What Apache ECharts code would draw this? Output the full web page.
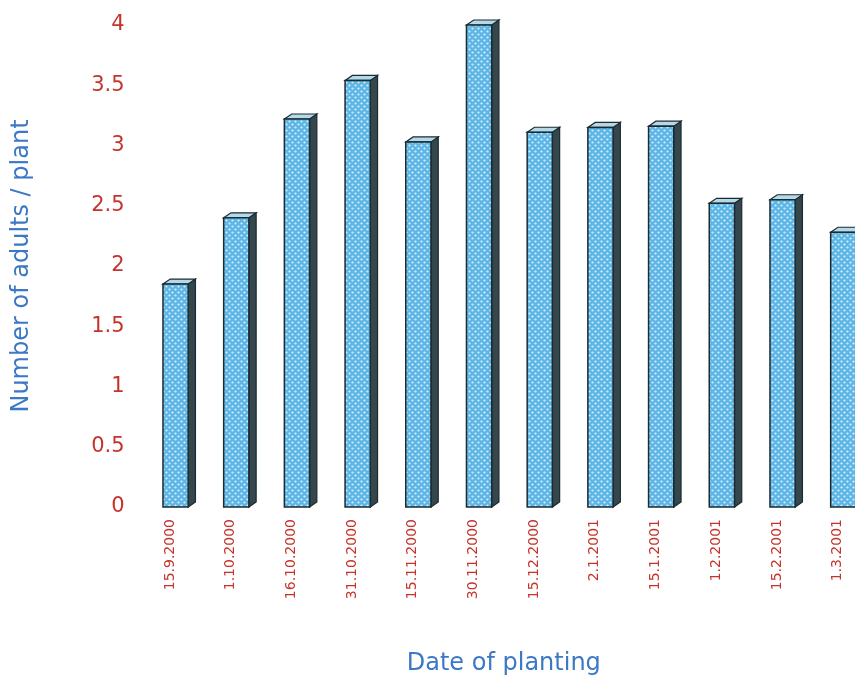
<!DOCTYPE html>
<html>
<head>
<meta charset="utf-8">
<script src="https://cdn.jsdelivr.net/npm/echarts@6/dist/echarts.min.js"></script>
<style>
  html, body { margin: 0; padding: 0; background: #fff; }
  #main { width: 855px; height: 692px; }
</style>
</head>
<body>
<div id="main"></div>
<script>
var categories = ['15.9.2000', '1.10.2000', '16.10.2000', '31.10.2000', '15.11.2000', '30.11.2000',
  '15.12.2000', '2.1.2001', '15.1.2001', '1.2.2001', '15.2.2001', '1.3.2001'];
var adults = [1.85, 2.40, 3.22, 3.54, 3.03, 4.00, 3.11, 3.15, 3.16, 2.52, 2.55, 2.28];
var yTicks = [0, 0.5, 1, 1.5, 2, 2.5, 3, 3.5, 4];

// dotted fill for the front of the bars
var dots = document.createElement('canvas');
dots.width = 6;
dots.height = 6;
var ctx = dots.getContext('2d');
ctx.fillStyle = '#5db6e6';
ctx.fillRect(0, 0, 6, 6);
ctx.fillStyle = '#d6effa';
[[1.5, 1.5], [4.5, 4.5]].forEach(function (p) {
  ctx.beginPath();
  ctx.arc(p[0], p[1], 1.1, 0, Math.PI * 2);
  ctx.fill();
});

var myChart = echarts.init(document.getElementById('main'));

option = {
  backgroundColor: '#fff',
  textStyle: { fontFamily: 'DejaVu Sans' },
  grid: { left: 139.6, width: 728.4, top: 25, bottom: 185, outerBoundsMode: 'none', containLabel: false },
  xAxis: {
    type: 'category',
    data: categories,
    name: 'Date of planting',
    nameLocation: 'middle',
    nameGap: 145,
    nameTextStyle: { color: '#3b78c6', fontSize: 24 },
    axisLine: { show: false },
    axisTick: { show: false },
    axisLabel: { interval: 0, rotate: 90, margin: 12, color: '#c4342c', fontSize: 14 }
  },
  yAxis: {
    type: 'value',
    min: yTicks[0],
    max: yTicks[yTicks.length - 1],
    interval: 0.5,
    name: 'Number of adults / plant',
    nameLocation: 'middle',
    nameGap: 106,
    nameTextStyle: { color: '#3b78c6', fontSize: 24 },
    axisLine: { show: false },
    axisTick: { show: false },
    splitLine: { show: false },
    axisLabel: { margin: 15, color: '#c4342c', fontSize: 21 }
  },
  series: [{
    type: 'custom',
    clip: false,
    encode: { x: 0, y: 1 },
    data: adults.map(function (v, i) { return [i, v]; }),
    renderItem: function (params, api) {
      var base = api.coord([api.value(0), 0]);
      var top = api.coord([api.value(0), api.value(1)]);
      var band = api.size([1, 0])[0];
      var x0 = base[0] - band * 0.115;
      var x1 = base[0] + band * 0.3;
      var dx = band * 0.12, dy = 5;
      var edge = '#1c2b30';
      return {
        type: 'group',
        children: [{
          type: 'polygon',
          shape: { points: [[x1, top[1]], [x1 + dx, top[1] - dy], [x1 + dx, base[1] - dy], [x1, base[1]]] },
          style: { fill: '#34474d', stroke: edge, lineWidth: 1.2 }
        }, {
          type: 'polygon',
          shape: { points: [[x0, top[1]], [x0 + dx, top[1] - dy], [x1 + dx, top[1] - dy], [x1, top[1]]] },
          style: { fill: '#b4d9ea', stroke: edge, lineWidth: 1.2 }
        }, {
          type: 'rect',
          shape: { x: x0, y: top[1], width: x1 - x0, height: base[1] - top[1] },
          style: { fill: { image: dots, repeat: 'repeat' }, stroke: edge, lineWidth: 1.5 }
        }]
      };
    }
  }]
};
myChart.setOption(option);
</script>
</body>
</html>
